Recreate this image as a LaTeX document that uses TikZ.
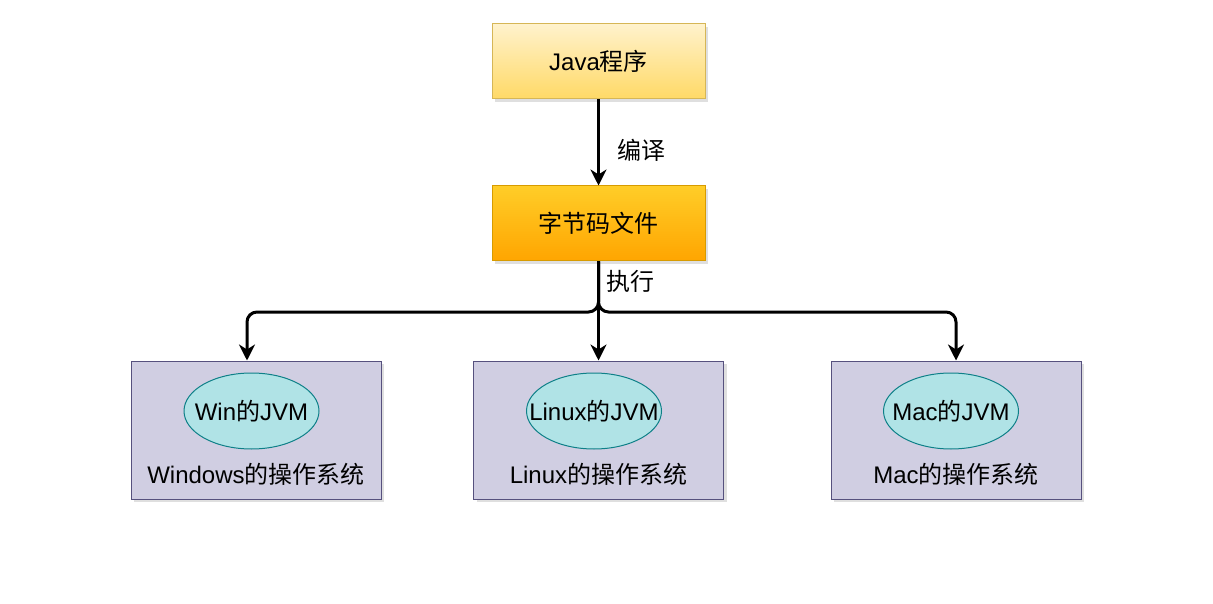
\documentclass[tikz,border=0pt]{standalone}
\usepackage{fontspec}
\setmainfont{Liberation Sans}
\newfontfamily\cjk{Noto Sans CJK SC}
\newcommand{\zh}[1]{{\cjk #1}}
\usetikzlibrary{arrows.meta,shadows,shapes.geometric}
\definecolor{y1top}{HTML}{FFF2CC}
\definecolor{y1bot}{HTML}{FFD966}
\definecolor{y1line}{HTML}{D6B656}
\definecolor{y2top}{HTML}{FFCD28}
\definecolor{y2bot}{HTML}{FFA500}
\definecolor{y2line}{HTML}{D79B00}
\definecolor{osfill}{HTML}{D0CEE2}
\definecolor{osline}{HTML}{56517E}
\definecolor{jvmfill}{HTML}{B0E3E6}
\definecolor{jvmline}{HTML}{0E8088}
\begin{document}
\begin{tikzpicture}[x=1pt,y=-1pt,
  font=\fontsize{24}{28}\selectfont,
  shade/.style={drop shadow={opacity=0.25,shadow xshift=3pt,shadow yshift=-3pt}},
  topbox/.style={rectangle,draw=y1line,line width=1pt,top color=y1top,bottom color=y1bot,minimum width=213pt,minimum height=75pt,inner sep=0pt,shade},
  bytebox/.style={rectangle,draw=y2line,line width=1pt,top color=y2top,bottom color=y2bot,minimum width=213pt,minimum height=75pt,inner sep=0pt,shade},
  osbox/.style={rectangle,draw=osline,line width=1pt,fill=osfill,minimum width=250pt,minimum height=138pt,inner sep=0pt,shade},
  jvm/.style={ellipse,draw=jvmline,line width=1pt,fill=jvmfill,minimum width=135pt,minimum height=76pt,inner sep=0pt},
  conn/.style={line width=3pt,rounded corners=10pt,-{Stealth[length=16pt,width=16pt,inset=5pt]}},
  lbl/.style={inner sep=0pt}
]
\useasboundingbox (0,0) rectangle (1213,604);

\node[topbox] (java) at (598.5,61.5) {Java\zh{程序}};
\node[bytebox] (byte) at (598.5,223.5) {\zh{字节码文件}};

\node[osbox] (win) at (256,430) {};
\node[osbox] (lin) at (598.5,430) {};
\node[osbox] (mac) at (956,430) {};

\node[jvm,label={center:Win\zh{的}JVM}] (wjvm) at (251.5,411) {};
\node[jvm,label={center:Linux\zh{的}JVM}] (ljvm) at (594,411) {};
\node[jvm,label={center:Mac\zh{的}JVM}] (mjvm) at (951,411) {};

\node[lbl] (wos) at (256,474) {Windows\zh{的操作系统}};
\node[lbl] (los) at (598.5,474) {Linux\zh{的操作系统}};
\node[lbl] (mos) at (956,474) {Mac\zh{的操作系统}};

\coordinate (split) at (598.5,312);

\draw[conn] (java.south) -- (byte.north);
\node[lbl] (compile) at (641,150) {\zh{编译}};
\node[lbl] (exec) at (630,281) {\zh{执行}};

\draw[conn] (byte.south) -- (split) -| ([xshift=-9pt]win.north);
\draw[conn] (byte.south) -- (lin.north);
\draw[conn] (byte.south) -- (split) -| (mac.north);
\end{tikzpicture}
\end{document}
